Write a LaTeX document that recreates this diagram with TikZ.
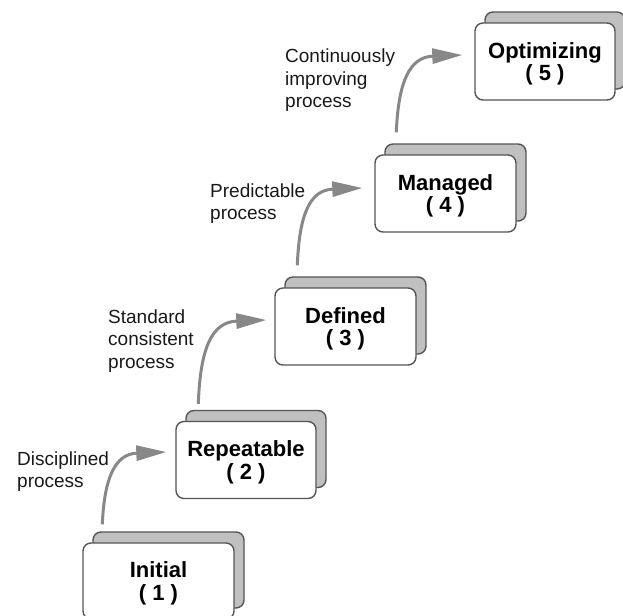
\documentclass[tikz,border=0pt]{standalone}
\usepackage{fontspec}
\setmainfont{Liberation Sans}
\usetikzlibrary{arrows.meta,calc}
\definecolor{backgray}{RGB}{192,192,192}
\definecolor{edgegray}{RGB}{85,85,85}
\definecolor{arrowgray}{RGB}{136,136,136}
\definecolor{txtgray}{RGB}{25,25,25}
\begin{document}
\begin{tikzpicture}[x=1pt,y=-1pt,
  stepfront/.style={draw=edgegray, line width=1.4pt, fill=white, rounded corners=8pt,
    minimum width=140pt, minimum height=77pt, inner sep=0pt, align=center, text depth=0pt,
    font=\fontsize{22}{22.5}\selectfont\bfseries},
  stepback/.style={draw=edgegray, line width=1.4pt, fill=backgray, rounded corners=8pt,
    minimum width=140pt, minimum height=77pt, inner sep=0pt},
  lbl/.style={anchor=base west, align=left, inner sep=0pt,
    font=\fontsize{19}{22.5}\selectfont, text=txtgray},
  flow/.style={draw=arrowgray, line width=3pt, -{Triangle[length=30pt,width=15pt]}}
]
\useasboundingbox (0,0) rectangle (623,615);
\clip (0,0) rectangle (623,615);

% step 1
\node[stepback, minimum width=151pt, minimum height=76pt] (b1back) at (168.5,570) {};
\node[stepfront, minimum width=151pt, minimum height=76pt] (b1) at (158.5,581) {Initial\\( 1 )};
% step 2
\node[stepback] (b2back) at (256,449) {};
\node[stepfront] (b2) at (246,460) {Repeatable\\( 2 )};
% step 3
\node[stepback, minimum width=141pt] (b3back) at (355.5,315.5) {};
\node[stepfront, minimum width=141pt] (b3) at (345.5,326.5) {Defined\\( 3 )};
% step 4
\node[stepback, minimum width=141pt] (b4back) at (455.5,182.5) {};
\node[stepfront, minimum width=141pt] (b4) at (445.5,193.5) {Managed\\( 4 )};
% step 5
\node[stepback] (b5back) at (555,50.5) {};
\node[stepfront] (b5) at (545,61.5) {Optimizing\\( 5 )};

% labels (anchor is the baseline of the last line)
\node[lbl] (l1) at (17,487.5) {Disciplined\\process};
\node[lbl] (l2) at (108,368) {Standard\\consistent\\process};
\node[lbl] (l3) at (210,219.5) {Predictable\\process};
\node[lbl] (l4) at (285,108) {Continuously\\improving\\process};

% arrow start and end points
\coordinate (s1) at ($(b1back.north west)+(10,-7)$);
\coordinate (s2) at ($(b2back.north west)+(13,-6)$);
\coordinate (s3) at ($(b3back.north west)+(13,-11)$);
\coordinate (s4) at ($(b4back.north west)+(12,-11)$);
\coordinate (t1) at ($(b2.west)+(-9,-8)$);
\coordinate (t2) at ($(b3.west)+(-8,-6.5)$);
\coordinate (t3) at ($(b4.west)+(-12,-5.5)$);
\coordinate (t4) at ($(b5.west)+(-12,-6.5)$);

\draw[flow] (s1) .. controls +(2,-45) and +(-52,2) .. (t1);
\draw[flow] (s2) .. controls +(2,-55) and +(-55,2) .. (t2);
\draw[flow] (s3) .. controls +(2,-50) and +(-53,2) .. (t3);
\draw[flow] (s4) .. controls +(2,-50) and +(-53,2) .. (t4);
\end{tikzpicture}
\end{document}
